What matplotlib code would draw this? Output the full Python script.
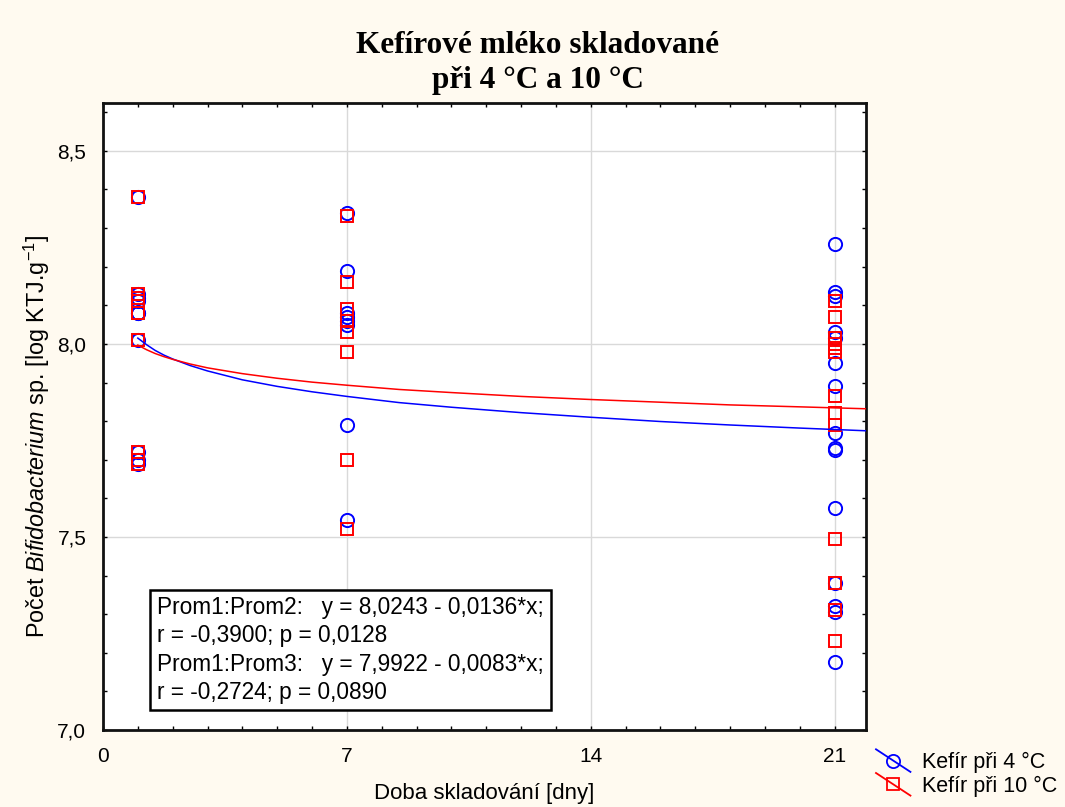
import numpy as np
import matplotlib
matplotlib.use('Agg')
import matplotlib.pyplot as plt
from matplotlib.lines import Line2D
from matplotlib.legend_handler import HandlerBase
from matplotlib.ticker import MultipleLocator, FixedLocator

plt.rcParams['font.family'] = ['Liberation Sans', 'DejaVu Sans']
plt.rcParams['mathtext.fontset'] = 'custom'
plt.rcParams['mathtext.rm'] = 'Liberation Sans'
plt.rcParams['mathtext.it'] = 'Liberation Sans:italic'

BG = '#fffaf0'
BLUE = '#0000ff'
RED = '#ff0000'

# storage days
DAY1, DAY7, DAY21 = 1, 7, 21

# log counts, kefir stored at 4 °C
k4_day1 = [8.38, 8.13, 8.12, 8.11, 8.08, 8.08, 8.01, 7.72, 7.70, 7.69]
k4_day7 = [8.34, 8.19, 8.08, 8.07, 8.06, 8.05, 7.79, 7.545]
k4_day21 = [8.26, 8.135, 8.125, 8.03, 8.015, 7.95, 7.89, 7.77, 7.73, 7.725,
            7.575, 7.38, 7.32, 7.305, 7.175]

# log counts, kefir stored at 10 °C
k10_day1 = [8.38, 8.13, 8.12, 8.11, 8.08, 8.08, 8.01, 7.72, 7.70, 7.69]
k10_day7 = [8.33, 8.16, 8.09, 8.06, 8.03, 7.98, 7.70, 7.52]
k10_day21 = [8.11, 8.07, 8.015, 8.00, 7.99, 7.98, 7.865, 7.82, 7.79, 7.495,
             7.38, 7.31, 7.23]

# fitted curves
fit_x = [1, 1.25, 1.5, 1.75, 2, 2.5, 3, 4, 5, 6, 7, 8.5, 10, 12, 14, 16, 18, 20, 21.9]
fit_k4 = [8.015, 7.998, 7.983, 7.971, 7.961, 7.944, 7.930, 7.907, 7.890, 7.876,
          7.864, 7.848, 7.836, 7.822, 7.810, 7.799, 7.790, 7.782, 7.775]
fit_k10 = [7.997, 7.985, 7.975, 7.967, 7.960, 7.948, 7.938, 7.923, 7.911, 7.901,
           7.893, 7.882, 7.874, 7.864, 7.856, 7.849, 7.842, 7.837, 7.832]

XTICKS = [0, 7, 14, 21]
YTICKS = [7.0, 7.5, 8.0, 8.5]
YTICKLABELS = ['7,0', '7,5', '8,0', '8,5']

STATS = ('Prom1:Prom2:   y = 8,0243 - 0,0136*x;\n'
         'r = -0,3900; p = 0,0128\n'
         'Prom1:Prom3:   y = 7,9922 - 0,0083*x;\n'
         'r = -0,2724; p = 0,0890')


def stack(day, vals):
    return [day] * len(vals), vals


class DiagonalHandler(HandlerBase):
    # statistica-style legend key: line crossing the marker diagonally
    def create_artists(self, legend, orig_handle, xdescent, ydescent,
                       width, height, fontsize, trans):
        x0, y0 = -xdescent, -ydescent
        ln = Line2D([x0, x0 + width], [y0 + height * 1.25, y0 - height * 0.25],
                    color=orig_handle.get_color(), lw=1.3, transform=trans)
        mk = Line2D([x0 + width / 2], [y0 + height / 2], ls='none',
                    marker=orig_handle.get_marker(), ms=orig_handle.get_markersize(),
                    mfc='none', mec=orig_handle.get_color(), mew=1.3,
                    transform=trans)
        return [ln, mk]


fig = plt.figure(figsize=(10.65, 8.07), dpi=100, facecolor=BG)
ax = fig.add_axes([0.0967, 0.0954, 0.7164, 0.777])
ax.set_facecolor('white')

for day, vals in [(DAY1, k4_day1), (DAY7, k4_day7), (DAY21, k4_day21)]:
    xs, ys = stack(day, vals)
    ax.plot(xs, ys, ls='none', marker='o', ms=9.5, mfc='none', mec=BLUE,
            mew=1.4, zorder=3)
for day, vals in [(DAY1, k10_day1), (DAY7, k10_day7), (DAY21, k10_day21)]:
    xs, ys = stack(day, vals)
    ax.plot(xs, ys, ls='none', marker='s', ms=9, mfc='none', mec=RED,
            mew=1.4, zorder=3)

ax.plot(fit_x, fit_k4, color=BLUE, lw=1.1, zorder=4)
ax.plot(fit_x, fit_k10, color=RED, lw=1.1, zorder=4)

ax.set_xlim(0, 21.9)
ax.set_ylim(7.0, 8.624)
ax.xaxis.set_major_locator(FixedLocator(XTICKS))
ax.xaxis.set_minor_locator(MultipleLocator(1))
ax.set_yticks(YTICKS)
ax.set_yticklabels(YTICKLABELS)
ax.yaxis.set_minor_locator(MultipleLocator(0.1))
ax.tick_params(which='both', direction='in', top=True, right=True,
               length=3, width=1, labelsize=15)
ax.tick_params(axis='x', pad=12)
ax.tick_params(axis='y', pad=12)
ax.grid(True, which='major', color='#d9d9d9', lw=1)
ax.set_axisbelow(True)
for sp in ax.spines.values():
    sp.set_linewidth(2)
    sp.set_color('#111111')

ax.text(0.071, 0.213, STATS, transform=ax.transAxes, ha='left', va='top',
        fontsize=16.3, linespacing=1.28, zorder=5,
        bbox=dict(boxstyle='square,pad=0.3', fc='white', ec='black', lw=1.8))

fig.text(0.505, 1 - 63 / 807, 'Kefírové mléko skladované\npři 4 °C a 10 °C',
         ha='center', va='center', fontsize=22.5, fontweight='bold',
         family='Liberation Serif', linespacing=1.25)
fig.text(484 / 1065, 1 - 793 / 807, 'Doba skladování [dny]', ha='center',
         va='center', fontsize=16)
fig.text(37 / 1065, 1 - 436 / 807,
         'Počet $\\mathit{Bifidobacterium}$ sp. [log KTJ.g$^{\\mathregular{-1}}$]',
         ha='center', va='center', rotation=90, fontsize=16.8)

h4 = Line2D([], [], color=BLUE, marker='o', ms=9.5)
h10 = Line2D([], [], color=RED, marker='s', ms=9)
fig.legend([h4, h10], ['Kefír při 4 °C', 'Kefír při 10 °C'],
           loc='upper left', bbox_to_anchor=(876 / 1065, 1 - 752 / 807),
           frameon=False, fontsize=15.5, handlelength=1.6, handletextpad=0.55,
           labelspacing=0.12, borderpad=0, borderaxespad=0,
           handler_map={Line2D: DiagonalHandler()})

fig.savefig('out.png', dpi=100, facecolor=BG)
